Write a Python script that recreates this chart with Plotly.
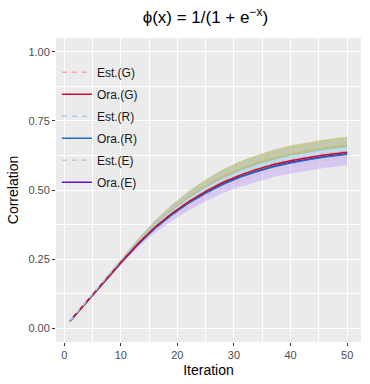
import plotly.graph_objects as go

# iterations sampled along the curves
iters = [1, 3, 5, 7, 10, 13, 16, 19, 22, 25, 28, 31, 34, 37, 40, 43, 46, 50]

# oracle correlations
ora_g = [0.025, 0.073, 0.121, 0.168, 0.238, 0.305, 0.365, 0.415, 0.458, 0.495, 0.527, 0.553, 0.574, 0.592, 0.606, 0.617, 0.627, 0.637]
ora_r = [0.025, 0.072, 0.120, 0.167, 0.236, 0.302, 0.361, 0.410, 0.453, 0.489, 0.520, 0.546, 0.567, 0.584, 0.598, 0.609, 0.619, 0.629]
ora_e = [0.025, 0.073, 0.120, 0.167, 0.237, 0.303, 0.362, 0.412, 0.454, 0.490, 0.522, 0.548, 0.568, 0.586, 0.600, 0.611, 0.621, 0.631]

# estimated correlations
est_g = [0.025, 0.073, 0.121, 0.168, 0.238, 0.305, 0.366, 0.417, 0.460, 0.497, 0.530, 0.556, 0.577, 0.595, 0.609, 0.620, 0.630, 0.640]
est_r = [0.026, 0.075, 0.124, 0.173, 0.246, 0.318, 0.383, 0.438, 0.485, 0.526, 0.561, 0.589, 0.611, 0.630, 0.645, 0.657, 0.667, 0.677]
est_e = [0.024, 0.072, 0.119, 0.166, 0.235, 0.299, 0.356, 0.404, 0.444, 0.480, 0.510, 0.535, 0.555, 0.573, 0.586, 0.597, 0.607, 0.617]

# uncertainty bands (lower / upper)
band1_lo = [0.026, 0.074, 0.123, 0.171, 0.242, 0.311, 0.373, 0.425, 0.470, 0.509, 0.542, 0.569, 0.591, 0.609, 0.624, 0.635, 0.645, 0.655]
band1_hi = [0.028, 0.077, 0.127, 0.176, 0.250, 0.323, 0.390, 0.447, 0.496, 0.538, 0.574, 0.603, 0.626, 0.646, 0.661, 0.672, 0.683, 0.693]
band2_lo = [0.024, 0.072, 0.120, 0.166, 0.235, 0.301, 0.360, 0.408, 0.450, 0.486, 0.517, 0.542, 0.563, 0.580, 0.594, 0.605, 0.615, 0.625]
band2_hi = [0.026, 0.075, 0.124, 0.172, 0.244, 0.314, 0.378, 0.431, 0.477, 0.517, 0.551, 0.578, 0.600, 0.619, 0.633, 0.645, 0.655, 0.665]
band3_lo = [0.023, 0.069, 0.116, 0.161, 0.228, 0.290, 0.344, 0.388, 0.426, 0.459, 0.488, 0.511, 0.530, 0.547, 0.560, 0.571, 0.580, 0.590]
band3_hi = [0.025, 0.073, 0.121, 0.168, 0.239, 0.306, 0.366, 0.417, 0.460, 0.497, 0.530, 0.556, 0.577, 0.595, 0.609, 0.620, 0.630, 0.640]

x_ticks = [0, 10, 20, 30, 40, 50]
x_labels = ["0", "10", "20", "30", "40", "50"]
y_ticks = [0, 0.25, 0.5, 0.75, 1.0]
y_labels = ["0.00", "0.25", "0.50", "0.75", "1.00"]

fig = go.Figure()

bands = [
    (band3_lo, band3_hi, "rgba(175,130,255,0.33)"),
    (band2_lo, band2_hi, "rgba(130,200,240,0.45)"),
    (band1_lo, band1_hi, "rgba(170,165,75,0.5)"),
]
for lo, hi, col in bands:
    fig.add_trace(go.Scatter(x=iters, y=lo, mode="lines", line=dict(width=0),
                             showlegend=False, hoverinfo="skip"))
    fig.add_trace(go.Scatter(x=iters, y=hi, mode="lines", line=dict(width=0),
                             fill="tonexty", fillcolor=col,
                             showlegend=False, hoverinfo="skip"))

series = [
    ("Est.(G)", est_g, "#F4A6A6", "5px,5px"),
    ("Ora.(G)", ora_g, "#C8102E", "solid"),
    ("Est.(R)", est_r, "#A6CEE3", "5px,5px"),
    ("Ora.(R)", ora_r, "#1F6FB8", "solid"),
    ("Est.(E)", est_e, "#D8BFDD", "5px,5px"),
    ("Ora.(E)", ora_e, "#6A10C8", "solid"),
]
draw_order = [4, 0, 5, 3, 1, 2]
for i in draw_order:
    name, vals, col, dash = series[i]
    fig.add_trace(go.Scatter(
        x=iters, y=vals, mode="lines", name=name,
        line=dict(color=col, width=1.5, dash=dash),
        legendgroup=name, legendrank=i + 1,
    ))

fig.update_layout(
    width=370, height=384,
    margin=dict(l=56, r=9, t=38, b=42),
    paper_bgcolor="white",
    plot_bgcolor="#EBEBEB",
    font=dict(family="Liberation Sans, Arial", size=11, color="#4D4D4D"),
    title=dict(text="ϕ(x) = 1/(1 + e<sup>−x</sup>)", x=0.555, xanchor="center",
               y=0.955, yanchor="middle",
               font=dict(size=17, color="black")),
    showlegend=True,
    legend=dict(x=0.003, y=0.935, xanchor="left", yanchor="top",
                bgcolor="rgba(0,0,0,0)", traceorder="grouped",
                tracegroupgap=3, itemwidth=30,
                font=dict(size=12, color="#1A1A1A")),
)

fig.update_xaxes(
    range=[-1.45, 52.45], tickmode="array", tickvals=x_ticks, ticktext=x_labels,
    showgrid=True, gridcolor="white",
    gridwidth=1.1, zeroline=False, ticks="outside", ticklen=3, tickcolor="#333333",
    tickfont=dict(size=11, color="#4D4D4D"),
    minor=dict(dtick=5, tick0=5, showgrid=True, gridcolor="white", gridwidth=0.5),
    title=dict(text="Iteration", font=dict(size=14, color="black"), standoff=4),
)
fig.update_yaxes(
    range=[-0.05, 1.05], tickmode="array", tickvals=y_ticks, ticktext=y_labels,
    showgrid=True,
    gridcolor="white", gridwidth=1.1, zeroline=False, ticks="outside", ticklen=3,
    tickcolor="#333333", tickfont=dict(size=11, color="#4D4D4D"),
    minor=dict(dtick=0.25, tick0=0.125, showgrid=True, gridcolor="white", gridwidth=0.5),
    title=dict(text="Correlation", font=dict(size=14, color="black"), standoff=6),
)

fig.write_html("out.html", config={"displayModeBar": False},
               post_script="document.body.style.margin='0';")
